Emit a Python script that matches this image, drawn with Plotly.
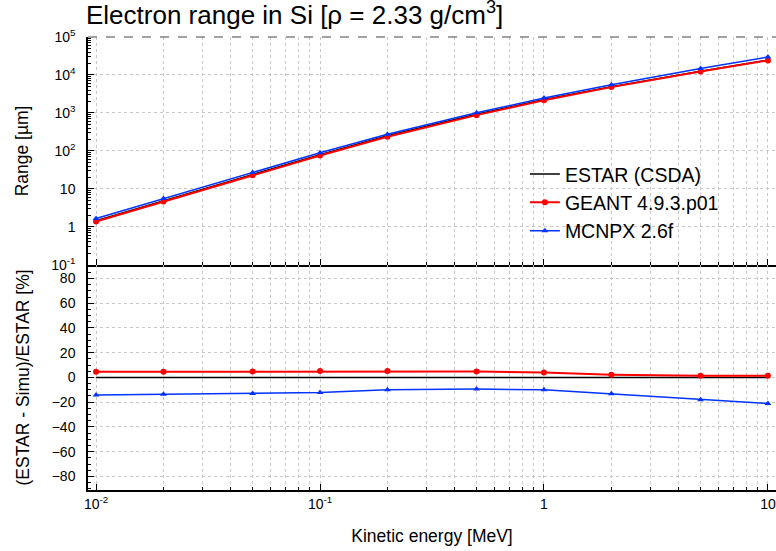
import plotly.graph_objects as go
from plotly.subplots import make_subplots

# Kinetic energy [MeV]
energy = [0.01, 0.02, 0.05, 0.1, 0.2, 0.5, 1, 2, 5, 10]

# Range in Si [um]
range_estar = [1.45, 4.9, 24, 80, 250, 920, 2250, 4900, 12500, 24500]
range_geant = [1.38, 4.67, 22.9, 75.9, 237, 876, 2160, 4790, 12340, 24180]
range_mcnpx = [1.66, 5.56, 27.1, 89.7, 275, 1006, 2475, 5547, 14750, 29650]

# (ESTAR - Simu)/ESTAR [%]
diff_estar = [0, 0, 0, 0, 0, 0, 0, 0, 0, 0]
diff_geant = [4.6, 4.6, 4.8, 5.1, 5.1, 4.8, 4.0, 2.2, 1.3, 1.3]
diff_mcnpx = [-14.3, -13.5, -12.9, -12.1, -10.0, -9.4, -10.0, -13.2, -18.0, -21.0]

x_ticks = [0.01, 0.1, 1, 10]
x_labels = ["10<sup>-2</sup>", "10<sup>-1</sup>", "1", "10"]
y_ticks = [0.1, 1, 10, 100, 1000, 1e4, 1e5]
y_labels = ["10<sup>-1</sup>", "1", "10", "10<sup>2</sup>", "10<sup>3</sup>",
            "10<sup>4</sup>", "10<sup>5</sup>"]

FONT = "Liberation Sans, Arial, sans-serif"
GRID = "#c8c8c8"
TICK_SIZE = 14
TITLE_SIZE = 17.5

W, H = 776, 551

fig = make_subplots(rows=2, cols=1, shared_xaxes=True, vertical_spacing=0,
                    row_heights=[0.503, 0.497])

styles = [
    ("ESTAR (CSDA)", "black", None, 1.5),
    ("GEANT 4.9.3.p01", "#ff0000", "circle", 2),
    ("MCNPX 2.6f", "#0033ff", "triangle-up", 1.5),
]
tops = [range_estar, range_geant, range_mcnpx]
bottoms = [diff_estar, diff_geant, diff_mcnpx]

for (name, col, sym, lw), yt, yb in zip(styles, tops, bottoms):
    mode = "lines" if sym is None else "lines+markers"
    marker = dict(color=col, size=6, symbol=sym) if sym else None
    fig.add_trace(go.Scatter(x=energy, y=yt, name=name, mode=mode,
                             line=dict(color=col, width=lw), marker=marker),
                  row=1, col=1)
    fig.add_trace(go.Scatter(x=energy, y=yb, name=name, mode=mode,
                             line=dict(color=col, width=lw), marker=marker,
                             showlegend=False),
                  row=2, col=1)

minor_x = dict(dtick="D1", ticks="inside", ticklen=3, tickcolor="black",
               showgrid=True, gridcolor=GRID, griddash="dot", gridwidth=1)

fig.update_xaxes(type="log", range=[-2.036, 1.036], tickmode="array",
                 tickvals=x_ticks, ticktext=x_labels, ticks="inside",
                 ticklen=6, tickcolor="black", showline=True, linecolor="black",
                 linewidth=1.5, showgrid=True, gridcolor=GRID, griddash="dot",
                 minor=minor_x, zeroline=False, automargin=False,
                 tickfont=dict(family=FONT, size=TICK_SIZE, color="black"))
fig.update_xaxes(showticklabels=False, row=1, col=1)
fig.update_xaxes(title=dict(text="Kinetic energy [MeV]", standoff=19,
                            font=dict(family=FONT, size=TITLE_SIZE,
                                      color="black")),
                 row=2, col=1)

fig.update_yaxes(type="log", range=[-1, 5], tickmode="array", tickvals=y_ticks,
                 ticktext=y_labels, ticks="inside", ticklen=6,
                 tickcolor="black", showline=True, linecolor="black",
                 linewidth=1.5, showgrid=True, gridcolor=GRID, griddash="dot",
                 minor=dict(dtick="D1", ticks="inside", ticklen=3,
                            tickcolor="black", showgrid=False),
                 ticklabelstandoff=8, automargin=False,
                 tickfont=dict(family=FONT, size=TICK_SIZE, color="black"),
                 title=dict(text="Range [µm]", standoff=18,
                            font=dict(family=FONT, size=TITLE_SIZE,
                                      color="black")),
                 row=1, col=1)

fig.update_yaxes(range=[-91, 91], tickmode="linear", tick0=0, dtick=20,
                 ticks="inside", ticklen=6, tickcolor="black", showline=True,
                 linecolor="black", linewidth=1.5, showgrid=True,
                 gridcolor=GRID, griddash="dot", zeroline=False,
                 minor=dict(dtick=5, ticks="inside", ticklen=3,
                            tickcolor="black", showgrid=False),
                 ticklabelstandoff=8, automargin=False,
                 tickfont=dict(family=FONT, size=TICK_SIZE, color="black"),
                 title=dict(text="(ESTAR - Simu)/ESTAR [%]", standoff=18,
                            font=dict(family=FONT, size=TITLE_SIZE,
                                      color="black")),
                 row=2, col=1)

# dashed frame on top of the upper panel
fig.add_shape(type="line", xref="x domain", yref="y domain", x0=0, x1=1,
              y0=1, y1=1, line=dict(color="#444444", width=1, dash="dash"))

fig.update_layout(
    width=W, height=H,
    margin=dict(l=88, r=0, t=37, b=61),
    paper_bgcolor="white", plot_bgcolor="white",
    font=dict(family=FONT, color="black"),
    title=dict(text="Electron range in Si [ρ = 2.33 g/cm<sup>3</sup>]",
               x=86 / W, xanchor="left", y=1 - 15 / H, yanchor="middle",
               font=dict(family=FONT, size=26, color="black")),
    legend=dict(x=0.635, y=0.74, xanchor="left", yanchor="top",
                bgcolor="rgba(0,0,0,0)", tracegroupgap=0,
                font=dict(family=FONT, size=19.5, color="black")),
)

# drop the default 8 px body margin so the figure fills the window
fig.write_html("out.html", config={"displayModeBar": False},
               post_script="document.body.style.margin='0px';")
